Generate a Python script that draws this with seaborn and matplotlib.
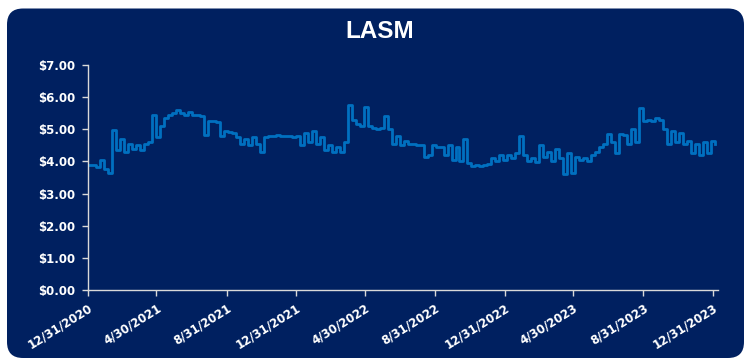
import pandas as pd
import numpy as np
import matplotlib
matplotlib.use("Agg")
import matplotlib.pyplot as plt
from matplotlib.patches import FancyBboxPatch
import seaborn as sns

# Weekly closing prices (first week = 12/31/2020)
start_date = "2020-12-31"
prices = [
    3.88, 3.88, 3.82, 4.05, 3.75, 3.65, 4.98, 4.35, 4.70, 4.30,
    4.55, 4.40, 4.50, 4.35, 4.55, 4.60, 5.44, 4.75, 5.10, 5.35,
    5.45, 5.50, 5.60, 5.50, 5.45, 5.55, 5.45, 5.45, 5.40, 4.82,
    5.25, 5.25, 5.22, 4.80, 4.95, 4.93, 4.90, 4.75, 4.55, 4.70,
    4.50, 4.75, 4.55, 4.30, 4.75, 4.80, 4.78, 4.82, 4.78, 4.80,
    4.78, 4.75, 4.80, 4.50, 4.90, 4.60, 4.95, 4.55, 4.75, 4.35,
    4.50, 4.30, 4.45, 4.30, 4.60, 5.75, 5.30, 5.15, 5.10, 5.70,
    5.10, 5.05, 5.00, 5.05, 5.40, 5.00, 4.55, 4.80, 4.50, 4.65,
    4.55, 4.55, 4.50, 4.50, 4.15, 4.20, 4.50, 4.45, 4.45, 4.20,
    4.50, 4.05, 4.45, 4.00, 4.70, 3.95, 3.85, 3.90, 3.85, 3.90,
    3.92, 4.10, 4.00, 4.20, 4.05, 4.20, 4.10, 4.25, 4.80, 4.20,
    4.00, 4.10, 3.98, 4.50, 4.15, 4.30, 4.00, 4.40, 4.10, 3.60,
    4.25, 3.65, 4.15, 4.05, 4.10, 4.00, 4.20, 4.30, 4.45, 4.55,
    4.85, 4.60, 4.25, 4.85, 4.82, 4.55, 5.00, 4.62, 5.65, 5.25,
    5.30, 5.25, 5.35, 5.30, 5.00, 4.55, 4.95, 4.60, 4.90, 4.55,
    4.65, 4.25, 4.55, 4.20, 4.60, 4.25, 4.65, 4.55,
]
tick_dates = ["2020-12-31", "2021-04-30", "2021-08-31", "2021-12-31", "2022-04-30",
              "2022-08-31", "2022-12-31", "2023-04-30", "2023-08-31", "2023-12-31"]
tick_labels = ["12/31/2020", "4/30/2021", "8/31/2021", "12/31/2021", "4/30/2022",
               "8/31/2022", "12/31/2022", "4/30/2023", "8/31/2023", "12/31/2023"]
y_ticks = [0, 1, 2, 3, 4, 5, 6, 7]
title = "LASM"

navy = "#002060"
line_blue = "#0070c0"
axis_grey = "#d9d9d9"

df = pd.DataFrame({
    "date": pd.date_range(start_date, periods=len(prices), freq="7D"),
    "price": prices,
})

fig = plt.figure(figsize=(7.46, 3.61), dpi=100, facecolor="white")

# rounded dark panel behind the chart
panel = FancyBboxPatch((0.07, 0.03), 7.37, 3.495, boxstyle="round,pad=0,rounding_size=0.16",
                       transform=fig.dpi_scale_trans, facecolor=navy, edgecolor="none",
                       zorder=-10)
fig.patches.append(panel)

ax = fig.add_axes([88 / 746, 1 - 290 / 361, (718 - 88) / 746, (290 - 65) / 361])
ax.set_facecolor("none")

sns.lineplot(data=df, x="date", y="price", ax=ax, color=line_blue, linewidth=2.0,
             drawstyle="steps-post")

ax.set_ylim(0, 7)
ax.set_xlim(pd.Timestamp(start_date), pd.Timestamp("2024-01-09"))
ax.set_yticks(y_ticks)
ax.set_yticklabels([f"${v:.2f}" for v in y_ticks])
ax.set_xticks(pd.to_datetime(tick_dates))
ax.set_xticklabels(tick_labels, rotation=32, ha="right", rotation_mode="anchor")
ax.set_xlabel("")
ax.set_ylabel("")

for side in ["top", "right"]:
    ax.spines[side].set_visible(False)
for side in ["left", "bottom"]:
    ax.spines[side].set_color(axis_grey)
    ax.spines[side].set_linewidth(1.0)

ax.tick_params(axis="both", colors=axis_grey, length=4, width=1.0, direction="out")
for lab in ax.get_xticklabels() + ax.get_yticklabels():
    lab.set_color("white")
    lab.set_fontweight("bold")
    lab.set_fontsize(8.5)
    lab.set_family("DejaVu Sans")
ax.tick_params(axis="x", pad=4)
ax.tick_params(axis="y", pad=5)

fig.text(380 / 746, 1 - 31 / 361, title, color="white", fontsize=17.5, fontweight="bold",
         family="Liberation Sans", ha="center", va="center")

fig.savefig("out.png", dpi=100, facecolor="white")
